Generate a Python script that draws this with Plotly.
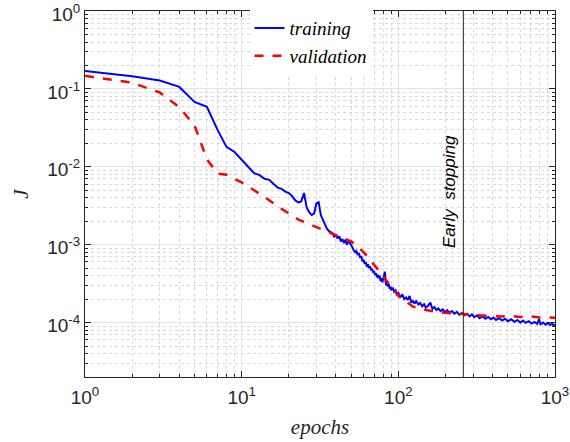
import plotly.graph_objects as go

# ---------------- data ----------------
train_epochs = [1, 2, 3, 4, 5, 6, 7, 8, 9, 10, 11, 12, 13, 14, 15, 16, 17, 18, 19, 20,
                21, 22, 23, 24, 25, 26, 27, 28, 29, 30, 31, 32, 33, 34, 35,
                36, 37, 38, 39, 40, 41, 42, 43, 44, 45, 46, 47, 48, 49, 50,
                51, 52, 53, 54, 55, 56, 57, 58, 59, 60, 61, 62, 63, 64, 65,
                66, 67, 68, 69, 70, 71, 72, 73, 74, 75, 76, 77, 78, 79, 80,
                81, 82, 83, 84, 85, 86, 87, 88, 89, 90, 92, 94, 96, 98, 100,
                103, 106, 109, 112, 115, 118, 121, 124, 127, 130, 134, 138, 142, 146, 150,
                155, 160, 165, 170, 175, 180, 186, 192, 198, 205, 212, 220, 228, 236, 245,
                255, 265, 275, 285, 295, 305, 318, 330, 345, 360, 375, 390, 405, 420, 440,
                460, 480, 500, 525, 550, 575, 600, 625, 650, 680, 710, 740, 770, 790, 810,
                840, 870, 900, 930, 960, 980, 1000]
train_loss = [0.170, 0.145, 0.128, 0.106, 0.068, 0.059, 0.030, 0.018, 0.0155, 0.0125, 0.0100, 0.0083, 0.0078, 0.0070, 0.0068, 0.0060, 0.0054, 0.0052, 0.0048, 0.0046,
              0.0042, 0.0037, 0.0035, 0.0036, 0.0046, 0.0030, 0.0026, 0.0024, 0.0025, 0.0034, 0.0035, 0.0024, 0.0021, 0.0018, 0.0016,
              0.0015, 0.00145, 0.0014, 0.00125, 0.00135, 0.0012, 0.00128, 0.0011, 0.00118, 0.00105, 0.00116, 0.00100, 0.0011, 0.00106, 0.00096,
              0.00092, 0.00084, 0.00080, 0.00083, 0.00074, 0.00078, 0.00068, 0.00071, 0.00061, 0.00064, 0.00057, 0.00060, 0.00052, 0.00056, 0.00050,
              0.00053, 0.00047, 0.00049, 0.00044, 0.00046, 0.00041, 0.00043, 0.00038, 0.00041, 0.00037, 0.0004, 0.00034, 0.00037, 0.00033, 0.00036,
              0.00041, 0.00045, 0.00033, 0.0003, 0.00033, 0.00029, 0.00031, 0.00027, 0.00029, 0.00026, 0.00028, 0.00025, 0.00026, 0.00023, 0.00024,
              0.00021, 0.00023, 0.0002, 0.00021, 0.000195, 0.00022, 0.00018, 0.00019, 0.000175, 0.00019, 0.00017, 0.000178, 0.000162, 0.000172, 0.000155,
              0.000165, 0.00018, 0.00015, 0.000158, 0.000145, 0.000152, 0.00014, 0.000148, 0.000136, 0.000144, 0.000133, 0.00014, 0.00013, 0.000137, 0.000126,
              0.000133, 0.000124, 0.00013, 0.00012, 0.000127, 0.000117, 0.000124, 0.000114, 0.00012, 0.000112, 0.000118, 0.00011, 0.000116, 0.000108, 0.000114,
              0.000106, 0.000112, 0.000104, 0.00011, 0.000102, 0.000108, 0.0001, 0.000106, 0.000099, 0.000104, 0.000097, 0.000102, 0.000096, 0.00011, 0.000095,
              0.0001, 0.000094, 0.000099, 0.000093, 0.000097, 0.000092, 0.000094]

val_epochs = [1, 2, 3, 4, 5, 6, 7, 8, 9, 10, 12, 14, 17, 20, 23, 28, 35, 42, 50, 55,
              60, 67, 73, 85, 100, 124, 150, 184, 230, 275, 350, 446, 520, 600, 700, 800, 900, 1000]
val_loss = [0.147, 0.120, 0.090, 0.058, 0.034, 0.0125, 0.0082, 0.0079, 0.0070, 0.0063, 0.0050, 0.0041, 0.0031, 0.0025, 0.0021, 0.00178, 0.00148, 0.00125, 0.0011, 0.00095,
            0.0008, 0.00062, 0.0005, 0.00034, 0.00022, 0.00016, 0.000145, 0.000135, 0.00013, 0.000126, 0.000123, 0.00012, 0.000122, 0.000118, 0.00012, 0.000116, 0.000117, 0.000115]

early_stop_epoch = 260
x_ticks = [1, 10, 100, 1000]
x_ticktext = ["10<sup>0</sup>", "10<sup>1</sup>", "10<sup>2</sup>", "10<sup>3</sup>"]
y_ticks = [1e-4, 1e-3, 1e-2, 1e-1, 1]
y_ticktext = ["10<sup>-4</sup>", "10<sup>-3</sup>", "10<sup>-2</sup>", "10<sup>-1</sup>", "10<sup>0</sup>"]

x_minor = [m * 10 ** d for d in range(0, 3) for m in range(2, 10)]
y_minor = [m * 10.0 ** d for d in range(-5, 0) for m in range(2, 10)]

SERIF = "Liberation Serif"
SANS = "Liberation Sans"

# ---------------- figure ----------------
fig = go.Figure()
fig.add_trace(go.Scatter(x=train_epochs, y=train_loss, mode="lines", name="<i>training</i>",
                         line=dict(color="#0000ff", width=2)))
fig.add_trace(go.Scatter(x=val_epochs, y=val_loss, mode="lines", name="<i>validation</i>",
                         line=dict(color="#ff0000", width=2.5, dash="dash")))

fig.add_vline(x=early_stop_epoch, line=dict(color="#262626", width=1))
fig.add_annotation(x=2.415, xref="x", y=-2.32, yref="y", text="<i>Early  stopping</i>",
                   textangle=-90, showarrow=False, xshift=-14,
                   font=dict(family=SANS, size=17, color="#000000"))

axis_common = dict(
    type="log", showline=True, linecolor="#262626", linewidth=1, mirror="ticks",
    ticks="inside", ticklen=6, tickcolor="#262626",
    showgrid=True, gridcolor="#e3e3e3", gridwidth=1, zeroline=False,
    ticklabeloverflow="allow",
    tickfont=dict(family=SANS, size=19, color="#262626"),
)

fig.update_xaxes(**axis_common, range=[0, 3], tickmode="array", tickvals=x_ticks, ticktext=x_ticktext,
                 ticklabelstandoff=3,
                 minor=dict(tickmode="array", tickvals=x_minor, ticks="inside", ticklen=3,
                            tickcolor="#262626", showgrid=True, gridcolor="#d9d9d9", griddash="dot"),
                 title=dict(text="<i>epochs</i>", font=dict(family=SERIF, size=21, color="#262626"),
                            standoff=12))
fig.update_yaxes(**axis_common, range=[-4.699, 0], tickmode="array", tickvals=y_ticks, ticktext=y_ticktext,
                 ticklabelshift=3,
                 minor=dict(tickmode="array", tickvals=y_minor, ticks="inside", ticklen=3,
                            tickcolor="#262626", showgrid=True, gridcolor="#d9d9d9", griddash="dot"),
                 title=dict(text="<i>J</i>", font=dict(family=SERIF, size=21, color="#262626"),
                            standoff=12))

fig.update_layout(
    width=570, height=442,
    margin=dict(l=85, r=15, t=11, b=65, autoexpand=False),
    plot_bgcolor="white", paper_bgcolor="white",
    showlegend=True,
    legend=dict(x=0.35, y=1.005, xanchor="left", yanchor="top", bgcolor="white",
                borderwidth=0, font=dict(family=SERIF, size=19, color="#000000"),
                itemwidth=30, tracegroupgap=0),
)

fig.write_html("out.html")
